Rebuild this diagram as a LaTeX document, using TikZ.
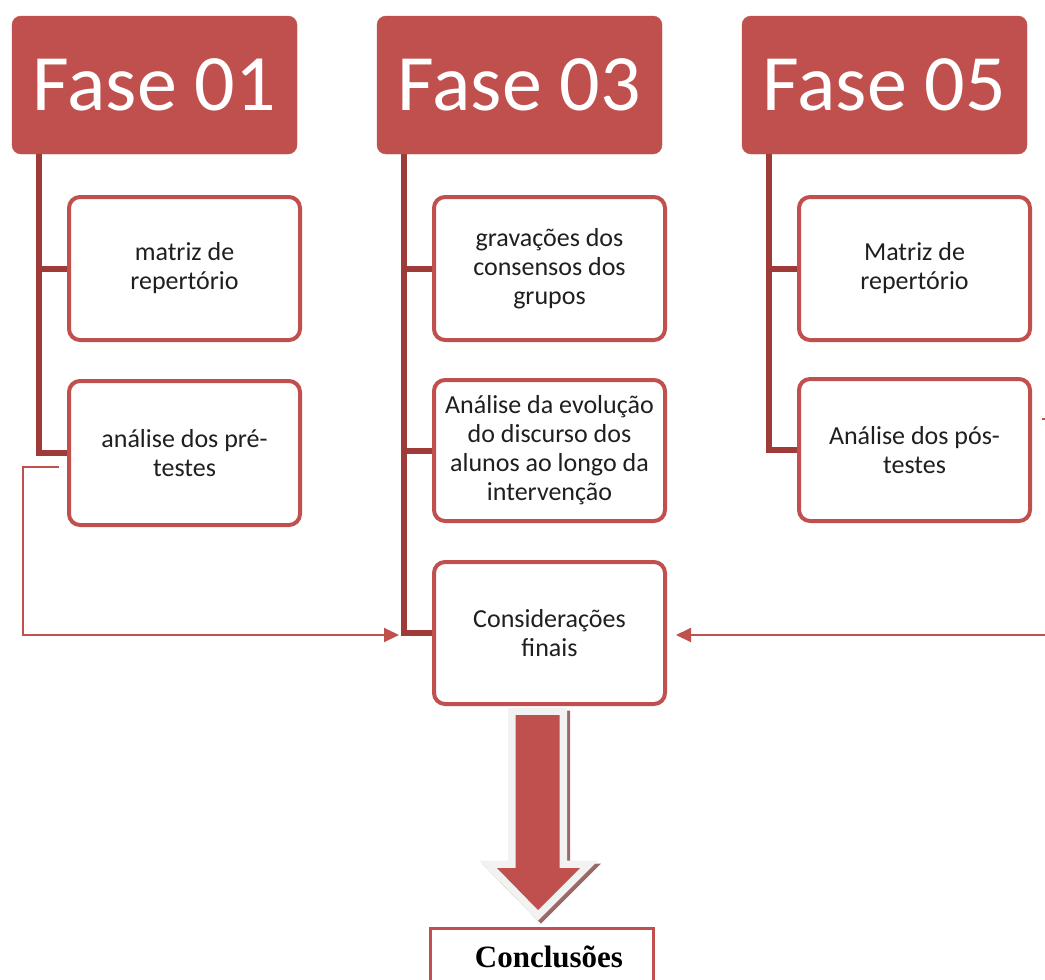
\documentclass[tikz,border=0pt]{standalone}
\usepackage{fontspec}
\setmainfont{Carlito}
\newfontfamily\serifb{Liberation Serif}
\usetikzlibrary{calc,arrows.meta}
\definecolor{accent}{HTML}{C0504D}
\definecolor{conn}{HTML}{9E3B38}
\definecolor{shadowc}{HTML}{9A6A68}
\definecolor{outl}{HTML}{F2F2F2}
\tikzset{
  header/.style={fill=accent, draw=accent, rounded corners=9pt, minimum width=285pt,
    minimum height=138pt, inner sep=0pt, text=white, font=\fontsize{80}{90}\selectfont},
  child/.style={draw=accent, line width=4pt, rounded corners=11pt, fill=white,
    minimum width=231pt, inner sep=0pt, align=center,
    font=\fontsize{26}{29}\selectfont, text=black!88},
  trunk/.style={draw=conn, line width=6pt},
  thinarrow/.style={draw=accent, line width=2pt, -{Triangle[length=15pt,width=14pt]}},
}
\begin{document}
\begin{tikzpicture}[x=1pt,y=-1pt]
\useasboundingbox (0,0) rectangle (1045,980);
% headers
\node[header] (h1) at (154.5,85) {Fase 01};
\node[header] (h3) at (519.5,85) {Fase 03};
\node[header] (h5) at (884.5,85) {Fase 05};
% children
\node[child, minimum height=143pt] (c11) at (184.5,268.5) {matriz de\\repertório};
\node[child, minimum height=144pt] (c12) at (184.5,453) {análise dos pré-\\testes};
\node[child, minimum height=143pt] (c31) at (549.5,268.5) {gravações dos\\consensos dos\\grupos};
\node[child, minimum height=141pt] (c32) at (549.5,450.5) {Análise da evolução\\do discurso dos\\alunos ao longo da\\intervenção};
\node[child, minimum height=142pt] (c33) at (549.5,633) {Considerações\\finais};
\node[child, minimum height=143pt] (c51) at (914.5,268.5) {Matriz de\\repertório};
\node[child, minimum height=142pt] (c52) at (914.5,450) {Análise dos pós-\\testes};
% trunks
\coordinate (t1) at ($(h1.south west)+(27,0)$);
\coordinate (t3) at ($(h3.south west)+(27,0)$);
\coordinate (t5) at ($(h5.south west)+(27,0)$);
\draw[trunk] (t1) |- (c12.west);
\draw[trunk] (t1 |- c11.west) -- (c11.west);
\draw[trunk] (t3) |- (c33.west);
\draw[trunk] (t3 |- c31.west) -- (c31.west);
\draw[trunk] (t3 |- c32.west) -- (c32.west);
\draw[trunk] (t5) |- (c52.west);
\draw[trunk] (t5 |- c51.west) -- (c51.west);
% thin arrows
\coordinate (ls) at (59,467);
\coordinate (la) at (399,635);
\draw[thinarrow] (ls) -- (23,467) |- (la);
\coordinate (rs) at (1042,419);
\coordinate (ra) at (676,635);
\draw[thinarrow] (rs) -- (1052,419) |- (ra);
% big arrow
\def\bigarrow{(515.5,715) -- (559.5,715) -- (559.5,868) -- (580,868) -- (538,910) -- (497,868) -- (515.5,868) -- cycle}
\filldraw[shadowc, line width=15pt, shift={(3,3)}] \bigarrow;
\filldraw[draw=outl, fill=outl, line width=15pt] \bigarrow;
\fill[accent] \bigarrow;
% conclusions
\node[draw=accent, line width=3pt, fill=white, minimum width=223pt, minimum height=80pt, anchor=north west] (concl) at (428.5,926.5) {};
\node[font=\serifb\bfseries\fontsize{31}{36}\selectfont, anchor=base] (ct) at (549,967) {Conclusões};
\end{tikzpicture}
\end{document}
